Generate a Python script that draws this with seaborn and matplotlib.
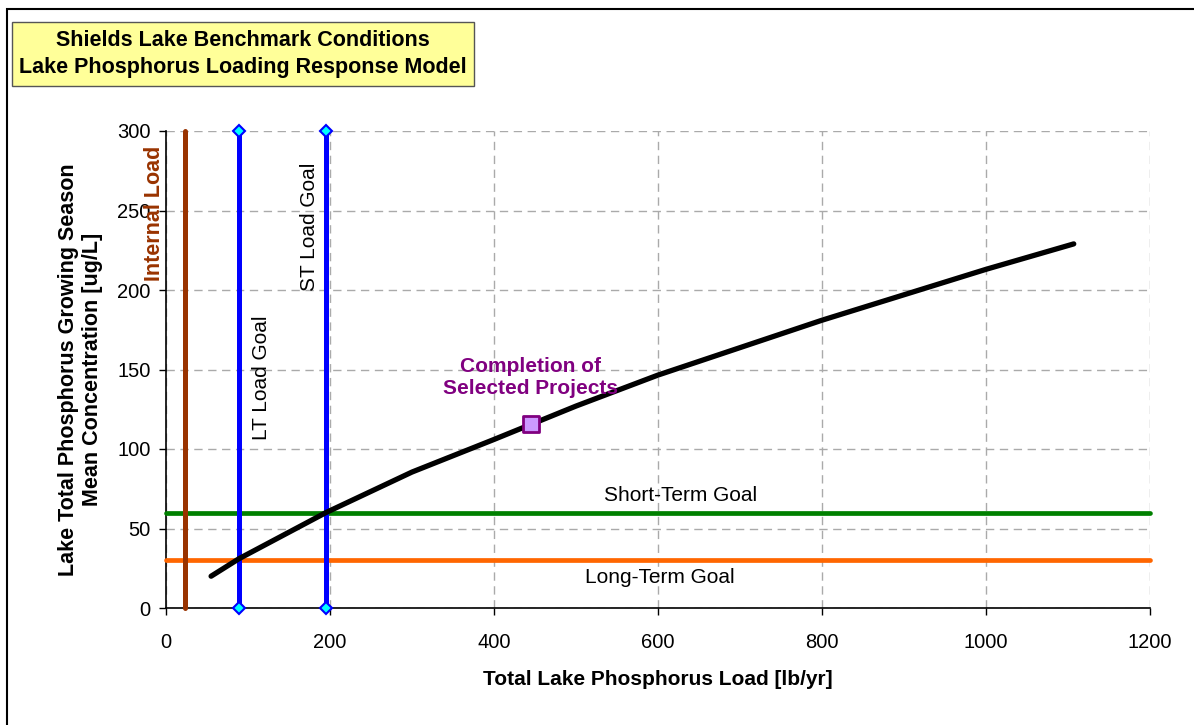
import numpy as np
import pandas as pd
import matplotlib
matplotlib.use("Agg")
import matplotlib.pyplot as plt
from matplotlib.patches import Rectangle
import seaborn as sns

sns.set_style("white")
plt.rcParams['font.family'] = ['Liberation Sans', 'DejaVu Sans']
plt.rcParams['text.color'] = 'black'
plt.rcParams['axes.labelcolor'] = 'black'
plt.rcParams['xtick.color'] = 'black'
plt.rcParams['ytick.color'] = 'black'

# --- data
load_lb_yr = [55, 89, 195, 300, 400, 500, 600, 800, 1000, 1107]
conc_ug_l = [20, 31, 60, 85.5, 106, 127, 146.5, 181, 213, 229]

project_load = [445]
project_conc = [116]

internal_load = 23
lt_load_goal = 89
st_load_goal = 195
short_term_goal = 60
long_term_goal = 30

x_ticks = [0, 200, 400, 600, 800, 1000, 1200]
y_ticks = [0, 50, 100, 150, 200, 250, 300]

curve = pd.DataFrame({"load": load_lb_yr, "conc": conc_ug_l})
proj = pd.DataFrame({"load": project_load, "conc": project_conc})

fig = plt.figure(figsize=(11.94, 7.25), dpi=100)
ax = fig.add_axes([166 / 1194, 1 - 608 / 725, (1150 - 166) / 1194, (608 - 131) / 725])

# goals
ax.plot([0, 1200], [short_term_goal, short_term_goal], color="#008000", lw=3.4,
        solid_capstyle="round", clip_on=False, zorder=3)
ax.plot([0, 1200], [long_term_goal, long_term_goal], color="#FF6600", lw=3.4,
        solid_capstyle="round", clip_on=False, zorder=3)

ax.plot([internal_load, internal_load], [0, 300], color="#993300", lw=3.6,
        solid_capstyle="round", clip_on=False, zorder=3)
for xv in (lt_load_goal, st_load_goal):
    ax.plot([xv, xv], [0, 300], color="#0000FF", lw=3.6, marker="D", ms=6,
            mfc="#00FFFF", mec="#0000FF", mew=1.5, clip_on=False, zorder=4)

# response curve
sns.lineplot(data=curve, x="load", y="conc", ax=ax, color="black", lw=3.8,
             zorder=5, sort=True)
ax.lines[-1].set_solid_capstyle("round")
ax.lines[-1].set_solid_joinstyle("round")
sns.scatterplot(data=proj, x="load", y="conc", ax=ax, marker="s", s=130,
                color="#CC99FF", edgecolor="#800080", linewidth=2, zorder=6)

# labels on the plot
ax.text(-14, 300 - 9, "Internal Load", rotation=90, color="#993300", fontsize=15.5,
        fontweight="bold", ha="center", va="top", zorder=7)
ax.text(117, 145, "LT Load Goal", rotation=90, color="black", fontsize=15,
        ha="center", va="center", zorder=7)
ax.text(175, 240, "ST Load Goal", rotation=90, color="black", fontsize=15,
        ha="center", va="center", zorder=7)
ax.text(627, 71, "Short-Term Goal", fontsize=15, ha="center", va="center", zorder=7)
ax.text(602, 19, "Long-Term Goal", fontsize=15, ha="center", va="center", zorder=7)
ax.text(445, 145, "Completion of\nSelected Projects", color="#800080", fontsize=15,
        fontweight="bold", ha="center", va="center", linespacing=1.25, zorder=7)

# axes styling
ax.set_xlim(0, 1200)
ax.set_ylim(0, 300)
ax.set_xticks(x_ticks)
ax.set_yticks(y_ticks)
ax.tick_params(axis="both", labelsize=14.5, direction="out", length=5, width=1,
               colors="black", left=True, bottom=True, pad=6)
ax.tick_params(axis="x", pad=13)
ax.grid(True, color="#AAAAAA", linestyle=(0, (6, 4)), linewidth=1)
for side in ("top", "right"):
    ax.spines[side].set_visible(False)
for side in ("left", "bottom"):
    ax.spines[side].set_color("black")
    ax.spines[side].set_linewidth(1.2)
ax.set_xlabel("Total Lake Phosphorus Load [lb/yr]", fontsize=15, fontweight="bold",
              labelpad=13)
ax.set_ylabel("Lake Total Phosphorus Growing Season\nMean Concentration [ug/L]",
              fontsize=15.5, fontweight="bold", labelpad=10)
ax.set_facecolor("white")

# title box
fig.text(243 / 1194, 1 - 54 / 725,
         "Shields Lake Benchmark Conditions\nLake Phosphorus Loading Response Model",
         fontsize=15.5, fontweight="bold", ha="center", va="center", linespacing=1.4,
         bbox=dict(boxstyle="square,pad=0.35", fc="#FFFF99", ec="#555555", lw=1))

# outer chart border
fig.add_artist(Rectangle((7 / 1194, -0.02), 1.0, 1 - 9 / 725 + 0.02,
                         transform=fig.transFigure, fill=False, ec="black", lw=1.5))

fig.savefig("out.png", dpi=100)
